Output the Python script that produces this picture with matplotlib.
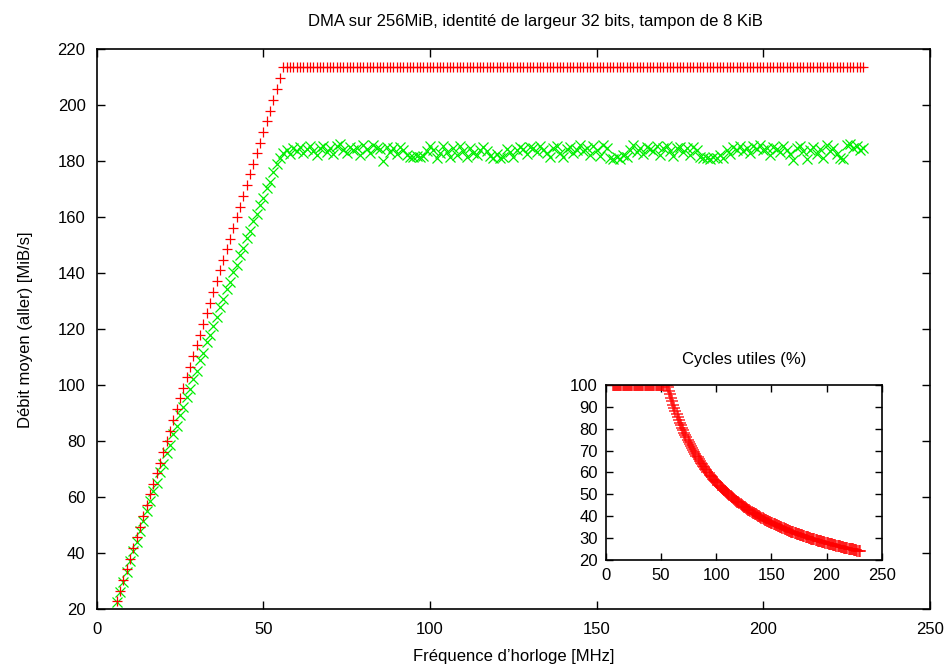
import matplotlib
matplotlib.use("Agg")
import matplotlib.pyplot as plt

plt.rcParams['font.family'] = ['Liberation Sans', 'DejaVu Sans']

# frequencies (MHz) of the measurements
freq = list(range(6, 231))

# mean throughput, red series (MiB/s): linear rise then saturation
red_rise = [22.9, 26.7, 30.5, 34.3, 38.1, 41.9, 45.7, 49.5, 53.3, 57.2,
            61.0, 64.8, 68.6, 72.4, 76.2, 80.0, 83.8, 87.6, 91.4, 95.3,
            99.1, 102.9, 106.7, 110.5, 114.3, 118.1, 121.9, 125.7, 129.5, 133.4,
            137.2, 141.0, 144.8, 148.6, 152.4, 156.2, 160.0, 163.8, 167.6, 171.5,
            175.3, 179.1, 182.9, 186.7, 190.5, 194.3, 198.1, 201.9, 205.7, 209.6]
red_flat = [213.7] * 175
red_vals = red_rise + red_flat

# green series (MiB/s)
green_rise = [22.6, 26.3, 29.9, 33.4, 37.2, 40.7, 44.1, 47.9, 51.4, 55.2,
              58.7, 62.1, 65.2, 68.9, 72.0, 75.8, 78.8, 82.5, 85.4, 89.3,
              92.2, 95.9, 98.7, 102.4, 105.1, 108.9, 111.6, 115.3, 118.0, 121.2,
              124.4, 127.9, 130.7, 134.3, 137.0, 140.4, 143.0, 146.5, 148.9, 152.6,
              155.0, 158.6, 161.0, 164.4, 166.8, 170.3, 172.6, 176.1, 178.9, 181.2]
green_flat = [183.0, 184.2, 182.5, 184.8, 183.6, 185.1, 182.9, 184.4, 185.3, 183.8,
              182.1, 184.9, 185.6, 183.2, 184.7, 182.6, 185.4, 186.0, 184.1, 182.8,
              185.2, 183.9, 184.6, 182.4, 185.7, 184.3, 183.1, 185.9, 184.8, 184.5,
              180.0, 185.0, 183.4, 184.6, 182.7, 185.2, 184.0, 182.2, 181.6, 181.4,
              182.0, 181.5, 181.8, 183.6, 185.4, 184.1, 181.3, 182.9, 185.5, 183.3,
              181.7, 184.6, 182.4, 185.3, 183.8, 181.5, 184.9, 183.1, 182.3, 184.2,
              185.1, 183.6, 181.8, 181.2, 182.5, 181.0, 181.6, 184.4, 183.2, 181.4,
              183.9, 185.0, 184.3, 182.6, 185.2, 184.7, 183.4, 185.6, 184.0, 182.8,
              181.5, 184.8, 185.3, 183.0, 181.7, 184.5, 185.1, 182.9, 184.2, 185.7,
              183.5, 184.9, 182.4, 185.4, 184.0, 181.9, 185.8, 184.6, 181.2, 180.8,
              181.6, 180.9, 182.3, 181.4, 184.1, 185.9, 183.2, 184.8, 182.6, 185.0,
              184.3, 183.7, 185.5, 182.1, 184.9, 185.3, 183.8, 181.9, 184.6, 185.1,
              183.4, 184.7, 182.2, 185.2, 184.0, 181.6, 181.0, 181.3, 180.7, 181.5,
              181.1, 182.4, 181.2, 183.9, 182.5, 185.0, 184.2, 185.6, 183.7, 184.9,
              182.8, 185.3, 184.4, 185.8, 183.9, 184.7, 182.3, 185.1, 184.5, 183.2,
              185.4, 184.0, 182.6, 180.6, 184.8, 185.5, 183.5, 180.9, 184.2, 185.0,
              182.7, 184.3, 181.0, 185.7, 183.6, 184.9, 182.5, 181.2, 180.7, 185.9,
              186.2, 184.8, 185.5, 183.9, 184.6]
green_vals = green_rise + green_flat

# useful cycles (%) for the inset
cycles_flat = [100.0] * 50
cycles_drop = [99.1, 97.4, 95.7, 94.1, 92.5, 91.0, 89.5, 88.1, 86.7, 85.4,
               84.1, 82.8, 81.6, 80.4, 79.3, 78.2, 77.1, 76.0, 75.0, 74.0,
               73.0, 72.1, 71.2, 70.3, 69.4, 68.5, 67.7, 66.9, 66.1, 65.3,
               64.5, 63.8, 63.1, 62.4, 61.7, 61.0, 60.3, 59.7, 59.0, 58.4,
               57.8, 57.2, 56.6, 56.1, 55.5, 55.0, 54.4, 53.9, 53.4, 52.9,
               52.4, 51.9, 51.4, 50.9, 50.5, 50.0, 49.6, 49.1, 48.7, 48.3,
               47.8, 47.4, 47.0, 46.6, 46.3, 45.9, 45.5, 45.1, 44.8, 44.4,
               44.0, 43.7, 43.4, 43.0, 42.7, 42.4, 42.0, 41.7, 41.4, 41.1,
               40.8, 40.5, 40.2, 39.9, 39.6, 39.4, 39.1, 38.8, 38.5, 38.3,
               38.0, 37.8, 37.5, 37.2, 37.0, 36.8, 36.5, 36.3, 36.0, 35.8,
               35.6, 35.4, 35.1, 34.9, 34.7, 34.5, 34.3, 34.0, 33.8, 33.6,
               33.4, 33.2, 33.0, 32.8, 32.6, 32.5, 32.3, 32.1, 31.9, 31.7,
               31.5, 31.4, 31.2, 31.0, 30.8, 30.7, 30.5, 30.3, 30.2, 30.0,
               29.8, 29.7, 29.5, 29.4, 29.2, 29.1, 28.9, 28.8, 28.6, 28.5,
               28.3, 28.2, 28.0, 27.9, 27.8, 27.6, 27.5, 27.3, 27.2, 27.1,
               26.9, 26.8, 26.7, 26.6, 26.4, 26.3, 26.2, 26.1, 25.9, 25.8,
               25.7, 25.6, 25.5, 25.3, 25.2, 25.1, 25.0, 24.9, 24.8, 24.7,
               24.6, 24.4, 24.3, 24.2, 24.1]
cycles_vals = cycles_flat + cycles_drop

RED = '#ff0000'
GREEN = '#00ee00'
FS = 12

fig = plt.figure(figsize=(9.51, 6.68), dpi=100)

ax = fig.add_axes([0.1017, 0.0879, 0.8763, 0.8383])
ax.plot(freq, green_vals, linestyle='none', marker='x', color=GREEN,
        markersize=7.5, markeredgewidth=0.9)
ax.plot(freq, red_vals, linestyle='none', marker='+', color=RED,
        markersize=7, markeredgewidth=0.9)
ax.set_xlim(0, 250)
ax.set_ylim(20, 220)
ax.set_xticks(range(0, 251, 50))
ax.set_yticks(range(20, 221, 20))
ax.tick_params(direction='in', top=True, right=True, length=6, width=1,
               labelsize=FS, pad=8)
ax.tick_params(axis='x', pad=9)
ax.set_xlabel("Fréquence d’horloge [MHz]", fontsize=FS, labelpad=9)
ax.set_ylabel("Débit moyen (aller) [MiB/s]", fontsize=FS, labelpad=18)
ax.set_title("DMA sur 256MiB, identité de largeur 32 bits, tampon de 8 KiB",
             fontsize=FS, pad=17, x=0.527)
for s in ax.spines.values():
    s.set_linewidth(1.2)

# inset: useful cycles
ins = fig.add_axes([0.6372, 0.1617, 0.2899, 0.262])
ins.plot(freq, cycles_vals, linestyle='none', marker='+', color=RED,
         markersize=9, markeredgewidth=1.1, alpha=0.85)
ins.set_xlim(0, 250)
ins.set_ylim(20, 100)
ins.set_xticks(range(0, 251, 50))
ins.set_yticks(range(20, 101, 10))
ins.tick_params(direction='in', top=True, right=True, length=5, width=1,
                labelsize=FS, pad=6)
ins.set_title("Cycles utiles (%)", fontsize=FS, pad=15)
for s in ins.spines.values():
    s.set_linewidth(1.2)

fig.savefig("out.png", dpi=100)
